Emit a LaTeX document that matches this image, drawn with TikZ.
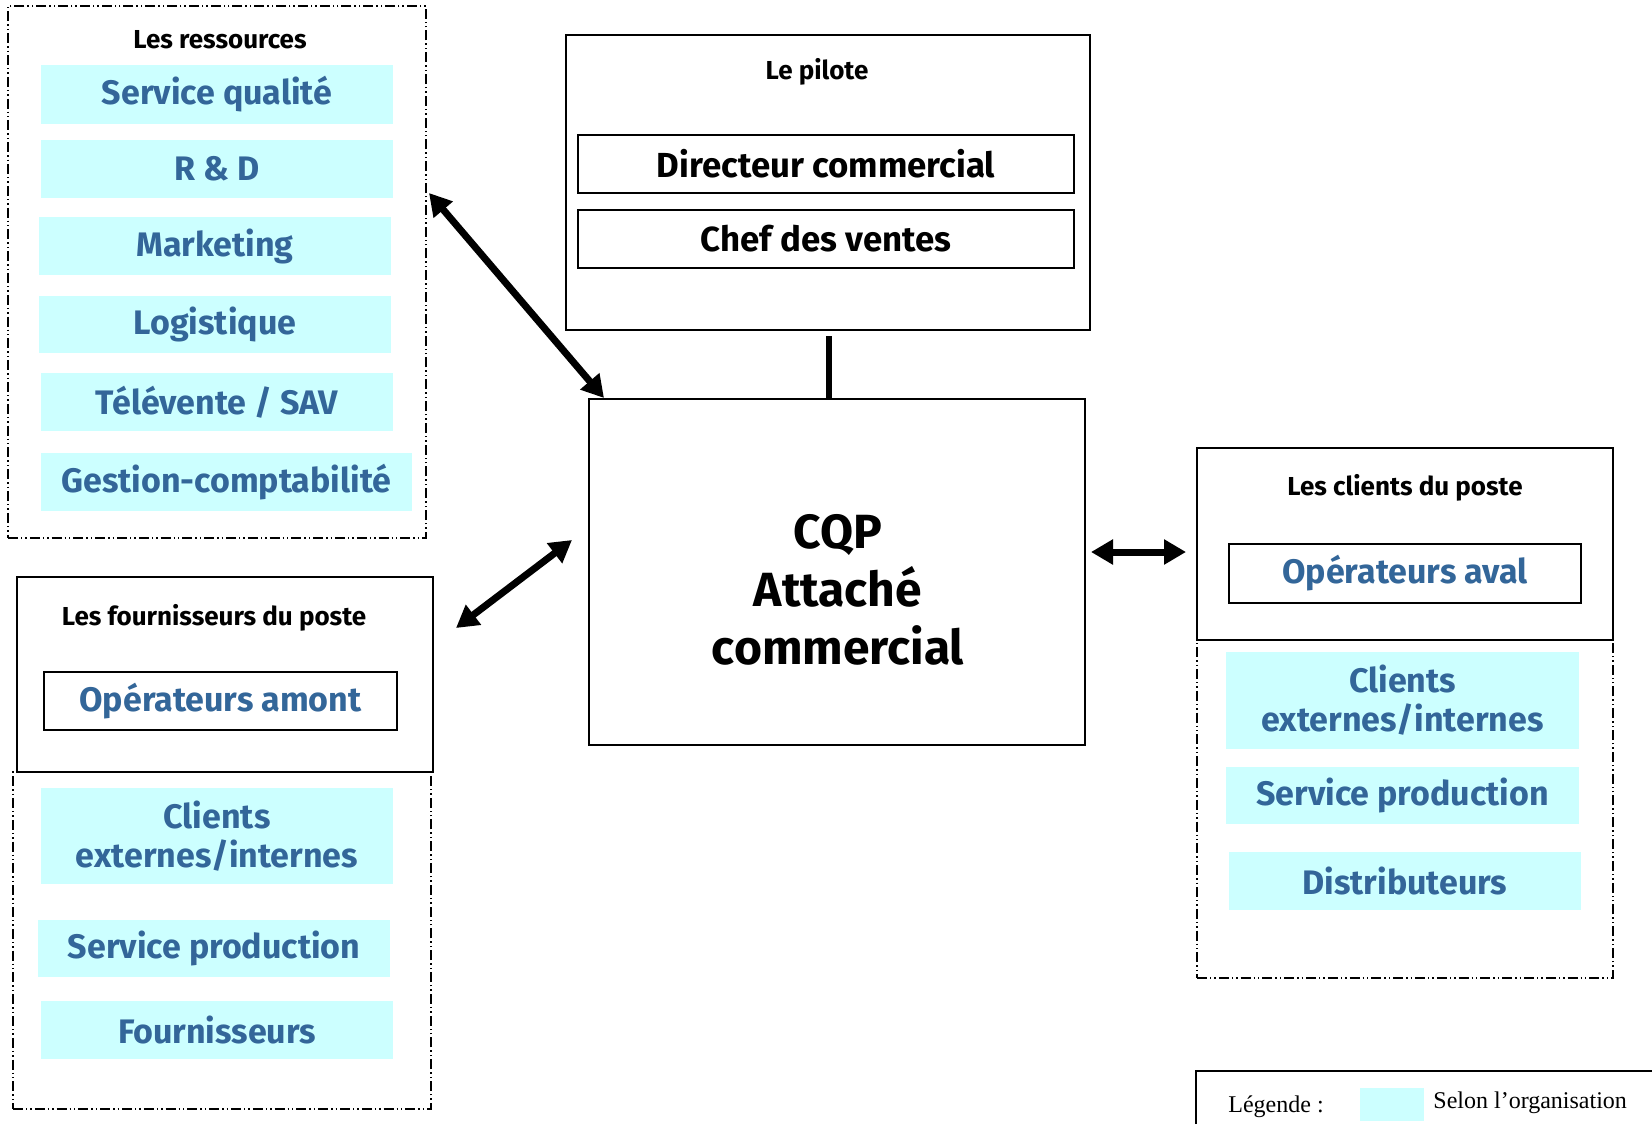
\documentclass[tikz,border=0pt]{standalone}
\usepackage{fontspec}
\setmainfont{Fira Sans}
\newfontfamily\legfont{Liberation Serif}
\usetikzlibrary{fit,arrows.meta}
\definecolor{cyanfill}{RGB}{204,255,255}
\definecolor{bluetxt}{RGB}{51,102,153}
\tikzset{
  ddot/.style={draw, line width=0.75pt, dash pattern=on 5pt off 1.5pt on 0.7pt off 1.5pt on 0.7pt off 1.5pt},
  solidbox/.style={draw, line width=0.9pt, inner sep=0pt},
  bluelabel/.style={text=bluetxt, font=\bfseries\fontsize{17}{19.5}\selectfont, align=center, inner sep=0pt},
  blacklabel/.style={text=black, font=\bfseries\fontsize{17.4}{19.5}\selectfont, align=center, inner sep=0pt},
  item/.style={fill=cyanfill, inner sep=0pt, label={[bluelabel]center:#1}},
  framedblack/.style={draw, line width=0.9pt, fill=white, inner sep=0pt, label={[blacklabel]center:#1}},
  framedblue/.style={draw, line width=0.9pt, fill=white, inner sep=0pt, label={[bluelabel]center:#1}},
  titletxt/.style={font=\bfseries\fontsize{13}{15}\selectfont, inner sep=0pt},
  bigarrow/.style={line width=3.5pt, {Triangle[length=11pt,width=12pt]}-{Triangle[length=11pt,width=12pt]}},
}
\begin{document}
\begin{tikzpicture}[x=0.5pt,y=-0.5pt]
\useasboundingbox (0,0) rectangle (1652,1124);
% ---- Les ressources
\node[ddot, inner sep=0pt, fit={(8,6)(426,538)}] (res) {};
\node[titletxt] (restitle) at (220,40) {Les ressources};
\node[item={Service qualité}, fit={(41,65)(393,124)}] (sq) {};
\node[item={R \& D}, fit={(41,140)(393,198)}] (rd) {};
\node[item={Marketing}, fit={(39,217)(391,275)}] (mk) {};
\node[item={Logistique}, fit={(39,296)(391,353)}] (lg) {};
\node[item={Télévente / SAV}, fit={(41,373)(393,431)}] (tv) {};
\node[item={Gestion-comptabilité}, fit={(41,453)(412,511)}] (gc) {};
% ---- Le pilote
\node[solidbox, fit={(566,35)(1090,330)}] (pil) {};
\node[titletxt] (piltitle) at (817,72) {Le pilote};
\node[framedblack={Directeur commercial}, fit={(578,135)(1074,193)}] (dir) {};
\node[framedblack={Chef des ventes}, fit={(578,210)(1074,268)}] (chef) {};
% ---- CQP
\node[solidbox, fit={(589,399)(1085,745)}] (cqp) {};
\node[align=center, font=\bfseries\fontsize{24}{29}\selectfont, inner sep=0pt] (cqptxt) at (838,590) {CQP\\Attaché\\commercial};
% ---- Fournisseurs
\node[solidbox, fit={(17,577)(433,772)}] (four) {};
\node[titletxt] (fourtitle) at (214,618) {Les fournisseurs du poste};
\node[framedblue={Opérateurs amont}, fit={(44,672)(397,730)}] (amont) {};
\node[ddot, inner sep=0pt, fit={(13,772)(431,1109)}] (fourdd) {};
\node[item={Clients\\externes/internes}, fit={(41,788)(393,884)}] (ce1) {};
\node[item={Service production}, fit={(38,920)(390,977)}] (sp1) {};
\node[item={Fournisseurs}, fit={(41,1001)(393,1059)}] (fo) {};
% ---- Clients
\node[ddot, inner sep=0pt, fit={(1197,640)(1613,978)}] (clidd) {};
\node[solidbox, fit={(1197,448)(1613,640)}] (cli) {};
\node[titletxt] (clititle) at (1405,488) {Les clients du poste};
\node[framedblue={Opérateurs aval}, fit={(1229,544)(1581,603)}] (aval) {};
\node[item={Clients\\externes/internes}, fit={(1226,652)(1579,749)}] (ce2) {};
\node[item={Service production}, fit={(1226,767)(1579,824)}] (sp2) {};
\node[item={Distributeurs}, fit={(1229,852)(1581,910)}] (di) {};
% ---- connectors
\coordinate (a1s) at (429,193);
\coordinate (a1e) at (604,398);
\coordinate (a2s) at (456,628);
\coordinate (a2e) at (572,540);
\coordinate (a3s) at (1091,552);
\coordinate (a3e) at (1186,552);
\coordinate (vt) at (829,336);
\draw[bigarrow] (a1s) -- (a1e);
\draw[bigarrow] (a2s) -- (a2e);
\draw[bigarrow] (a3s) -- (a3e);
\draw[line width=3pt] (vt) -- (vt |- cqp.north);
% ---- legend
\coordinate (lg1) at (1196,1124);
\coordinate (lg2) at (1196,1071);
\coordinate (lg3) at (1652,1071);
\draw[line width=0.9pt] (lg1) -- (lg2) -- (lg3);
\node[anchor=base west, inner sep=0pt, font=\legfont\fontsize{12}{14}\selectfont] (legtxt) at (1228,1112) {Légende :};
\node[fill=cyanfill, inner sep=0pt, fit={(1360,1088)(1424,1121)}] (legsw) {};
\node[anchor=base west, inner sep=0pt, font=\legfont\fontsize{12}{14}\selectfont] (legorg) at (1433,1108) {Selon l’organisation};
\end{tikzpicture}
\end{document}
